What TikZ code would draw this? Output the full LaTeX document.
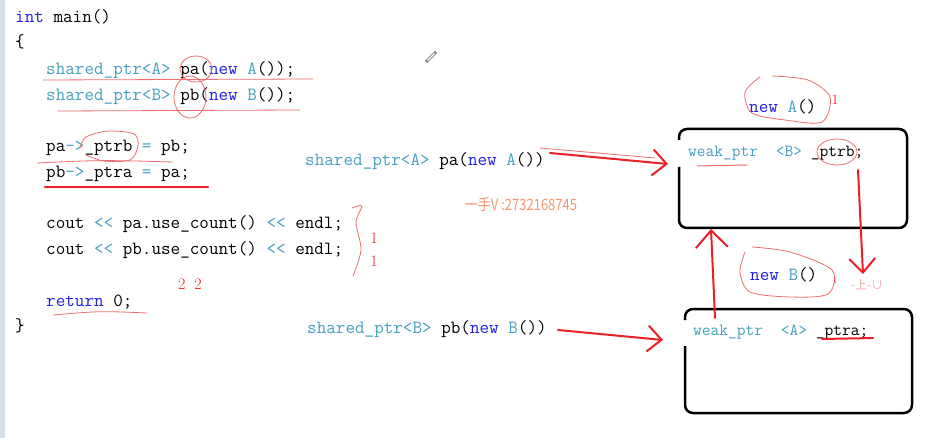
\documentclass[tikz,border=0pt]{standalone}
\usepackage{fontspec}
\newfontfamily\cjk{Noto Sans CJK SC}
\usetikzlibrary{arrows.meta}
\definecolor{codeteal}{RGB}{70,160,190}
\definecolor{kwblue}{RGB}{30,30,230}
\definecolor{penred}{RGB}{236,32,36}
\definecolor{penpink}{RGB}{236,110,110}
\definecolor{palepink}{RGB}{245,170,170}
\definecolor{wmorange}{RGB}{245,150,115}
\definecolor{sidebar}{RGB}{214,224,236}
\newcommand\tyc[1]{\textcolor{codeteal}{#1}}
\newcommand\kwc[1]{\textcolor{kwblue}{#1}}
\begin{document}
\begin{tikzpicture}[x=1pt,y=-1pt,
  code/.style={anchor=base west, inner sep=0pt, font=\ttfamily\fontsize{18.6}{20}\selectfont, text=black},
  codesm/.style={anchor=base west, inner sep=0pt, font=\ttfamily\fontsize{17}{20}\selectfont, text=black},
  objbox/.style={draw=black, line width=2.5pt, rounded corners=8pt},
  redpen/.style={draw=penred, line width=2pt, line cap=round, line join=round},
  thinpen/.style={draw=penpink, line width=0.8pt, line cap=round},
  redarrow/.style={redpen, -{Straight Barb[length=14pt,width=26pt,line width=2pt]}},
  bigarrow/.style={redpen, -{Straight Barb[length=17pt,width=32pt,line width=2pt]}},
  hand/.style={text=penred, font=\fontsize{16}{17}\selectfont, inner sep=0pt}
]
\useasboundingbox (0,0) rectangle (934,438);
\fill[white] (0,0) rectangle (934,438);
\fill[sidebar] (0,0) rectangle (5,438);

% ---- code listing ----
\node[code] (l0) at (15,23) {\kwc{int} main()};
\node[code] (l1) at (15,48) {\{};
\node[code] (l2) at (46,75) {\tyc{shared\_ptr<A>} pa(\kwc{new} \tyc{A}());};
\node[code] (l3) at (46,101) {\tyc{shared\_ptr<B>} pb(\kwc{new} \tyc{B}());};
\node[code] (l4) at (46,152) {pa\tyc{->}\_ptrb \tyc{=} pb;};
\node[code] (l5) at (46,178) {pb\tyc{->}\_ptra \tyc{=} pa;};
\node[code] (l6) at (46,229) {cout \tyc{<\kern0pt<} pa.use\_count() \tyc{<\kern0pt<} endl;};
\node[code] (l7) at (46,255) {cout \tyc{<\kern0pt<} pb.use\_count() \tyc{<\kern0pt<} endl;};
\node[code] (l8) at (46,306) {\kwc{return} 0;};
\node[code] (l9) at (15,331) {\}};

% ---- middle labels ----
\node[code] (sA) at (305,166) {\tyc{shared\_ptr<A>} pa(\kwc{new} \tyc{A}())};
\node[code] (sB) at (307,333) {\tyc{shared\_ptr<B>} pb(\kwc{new} \tyc{B}())};
\node[anchor=center, inner sep=0pt, text=wmorange, font=\cjk\fontsize{13}{14}\selectfont, yscale=1.2] (wm) at (521,205) {一手V :2732168745};

% ---- objects ----
\node[minimum width=228pt, minimum height=99pt, inner sep=0pt] (boxA) at (793,178.5) {};
\node[minimum width=227pt, minimum height=104pt, inner sep=0pt] (boxB) at (798.5,361) {};
\draw[objbox] (679,140) -- (679,129) -- (907,129) -- (907,228) -- (679,228) -- (679,167);
\draw[objbox] (685,320) -- (685,309) -- (912,309) -- (912,413) -- (685,413) -- (685,346);
\node[codesm] (wA) at (688,157) {\tyc{weak\_ptr}\ \ \tyc{<B>} \_ptrb;};
\node[codesm] (wB) at (693,335) {\tyc{weak\_ptr}\ \ \tyc{<A>} \_ptra;};
\node[code] (nA) at (749,113) {\kwc{new} \tyc{A}()};
\node[code] (nB) at (750,280) {\kwc{new} \tyc{B}()};

% ---- pen annotations: code side ----
\draw[thinpen] (196,69) ellipse [x radius=16, y radius=13];
\draw[thinpen] (190,97) ellipse [x radius=16, y radius=21];
\draw[thinpen] (43,80) -- (313,79);
\draw[thinpen] (58,111) -- (300,110);
\draw[thinpen] plot[smooth] coordinates {(80,148) (86,137) (108,131) (134,134) (138,146) (130,160) (104,161) (86,155)};
\draw[thinpen] (37,163) .. controls (100,160) .. (173,162);
\draw[redpen, line width=2.2pt] (45,187) -- (208,187);
\draw[thinpen] (53,315) .. controls (100,311) .. (147,313);
\draw[thinpen] plot[smooth] coordinates {(352,208) (362,206) (356,222) (361,250) (353,276)};
\node[hand] (one1) at (374,238) {1};
\node[hand] (one2) at (374,261) {1};
\node[hand] (twos) at (190,284) {2\hspace{9pt}2};

% pencil cursor
\draw[gray, line width=3pt] (426,62) -- (436,52);
\draw[white, line width=1.1pt] (427.5,60.5) -- (434.5,53.5);

% ---- pen annotations: objects ----
\draw[thinpen] plot[smooth] coordinates {(772,76) (808,80) (830,97) (822,122) (785,120) (752,113) (745,92) (760,77)};
\node[hand, font=\fontsize{14}{15}\selectfont] (oneA) at (835,100) {1};
\draw[thinpen] (837,152) ellipse [x radius=20, y radius=13];
\draw[thinpen, line width=1pt] (697,166) -- (747,165);
\draw[thinpen] plot[smooth] coordinates {(752,247) (790,252) (832,270) (828,294) (790,297) (750,292) (740,272) (745,252)};
\node[hand, font=\fontsize{9}{10}\selectfont] (oneB) at (835,281) {1};
\node[inner sep=0pt, text=palepink, font=\cjk\fontsize{12}{13}\selectfont] (scrib) at (867,285) {-上-∪};
\draw[redpen] (822,339) -- (873,338);

% ---- arrows ----
\coordinate (a1s) at (550,153);
\coordinate (a1e) at (668,164);
\draw[thinpen] (540,148) -- (655,158);
\draw[redarrow] (a1s) -- (a1e);
\coordinate (a2s) at (558,330);
\coordinate (a2e) at (663,340);
\draw[redarrow] (a2s) -- (a2e);
\coordinate (upS) at (715,318);
\coordinate (upE) at (711,229);
\draw[bigarrow] (upS) -- (upE);
\coordinate (dnS) at (858,170);
\coordinate (dnE) at (863,274);
\draw[redarrow] (dnS) -- (dnE);
\end{tikzpicture}
\end{document}
